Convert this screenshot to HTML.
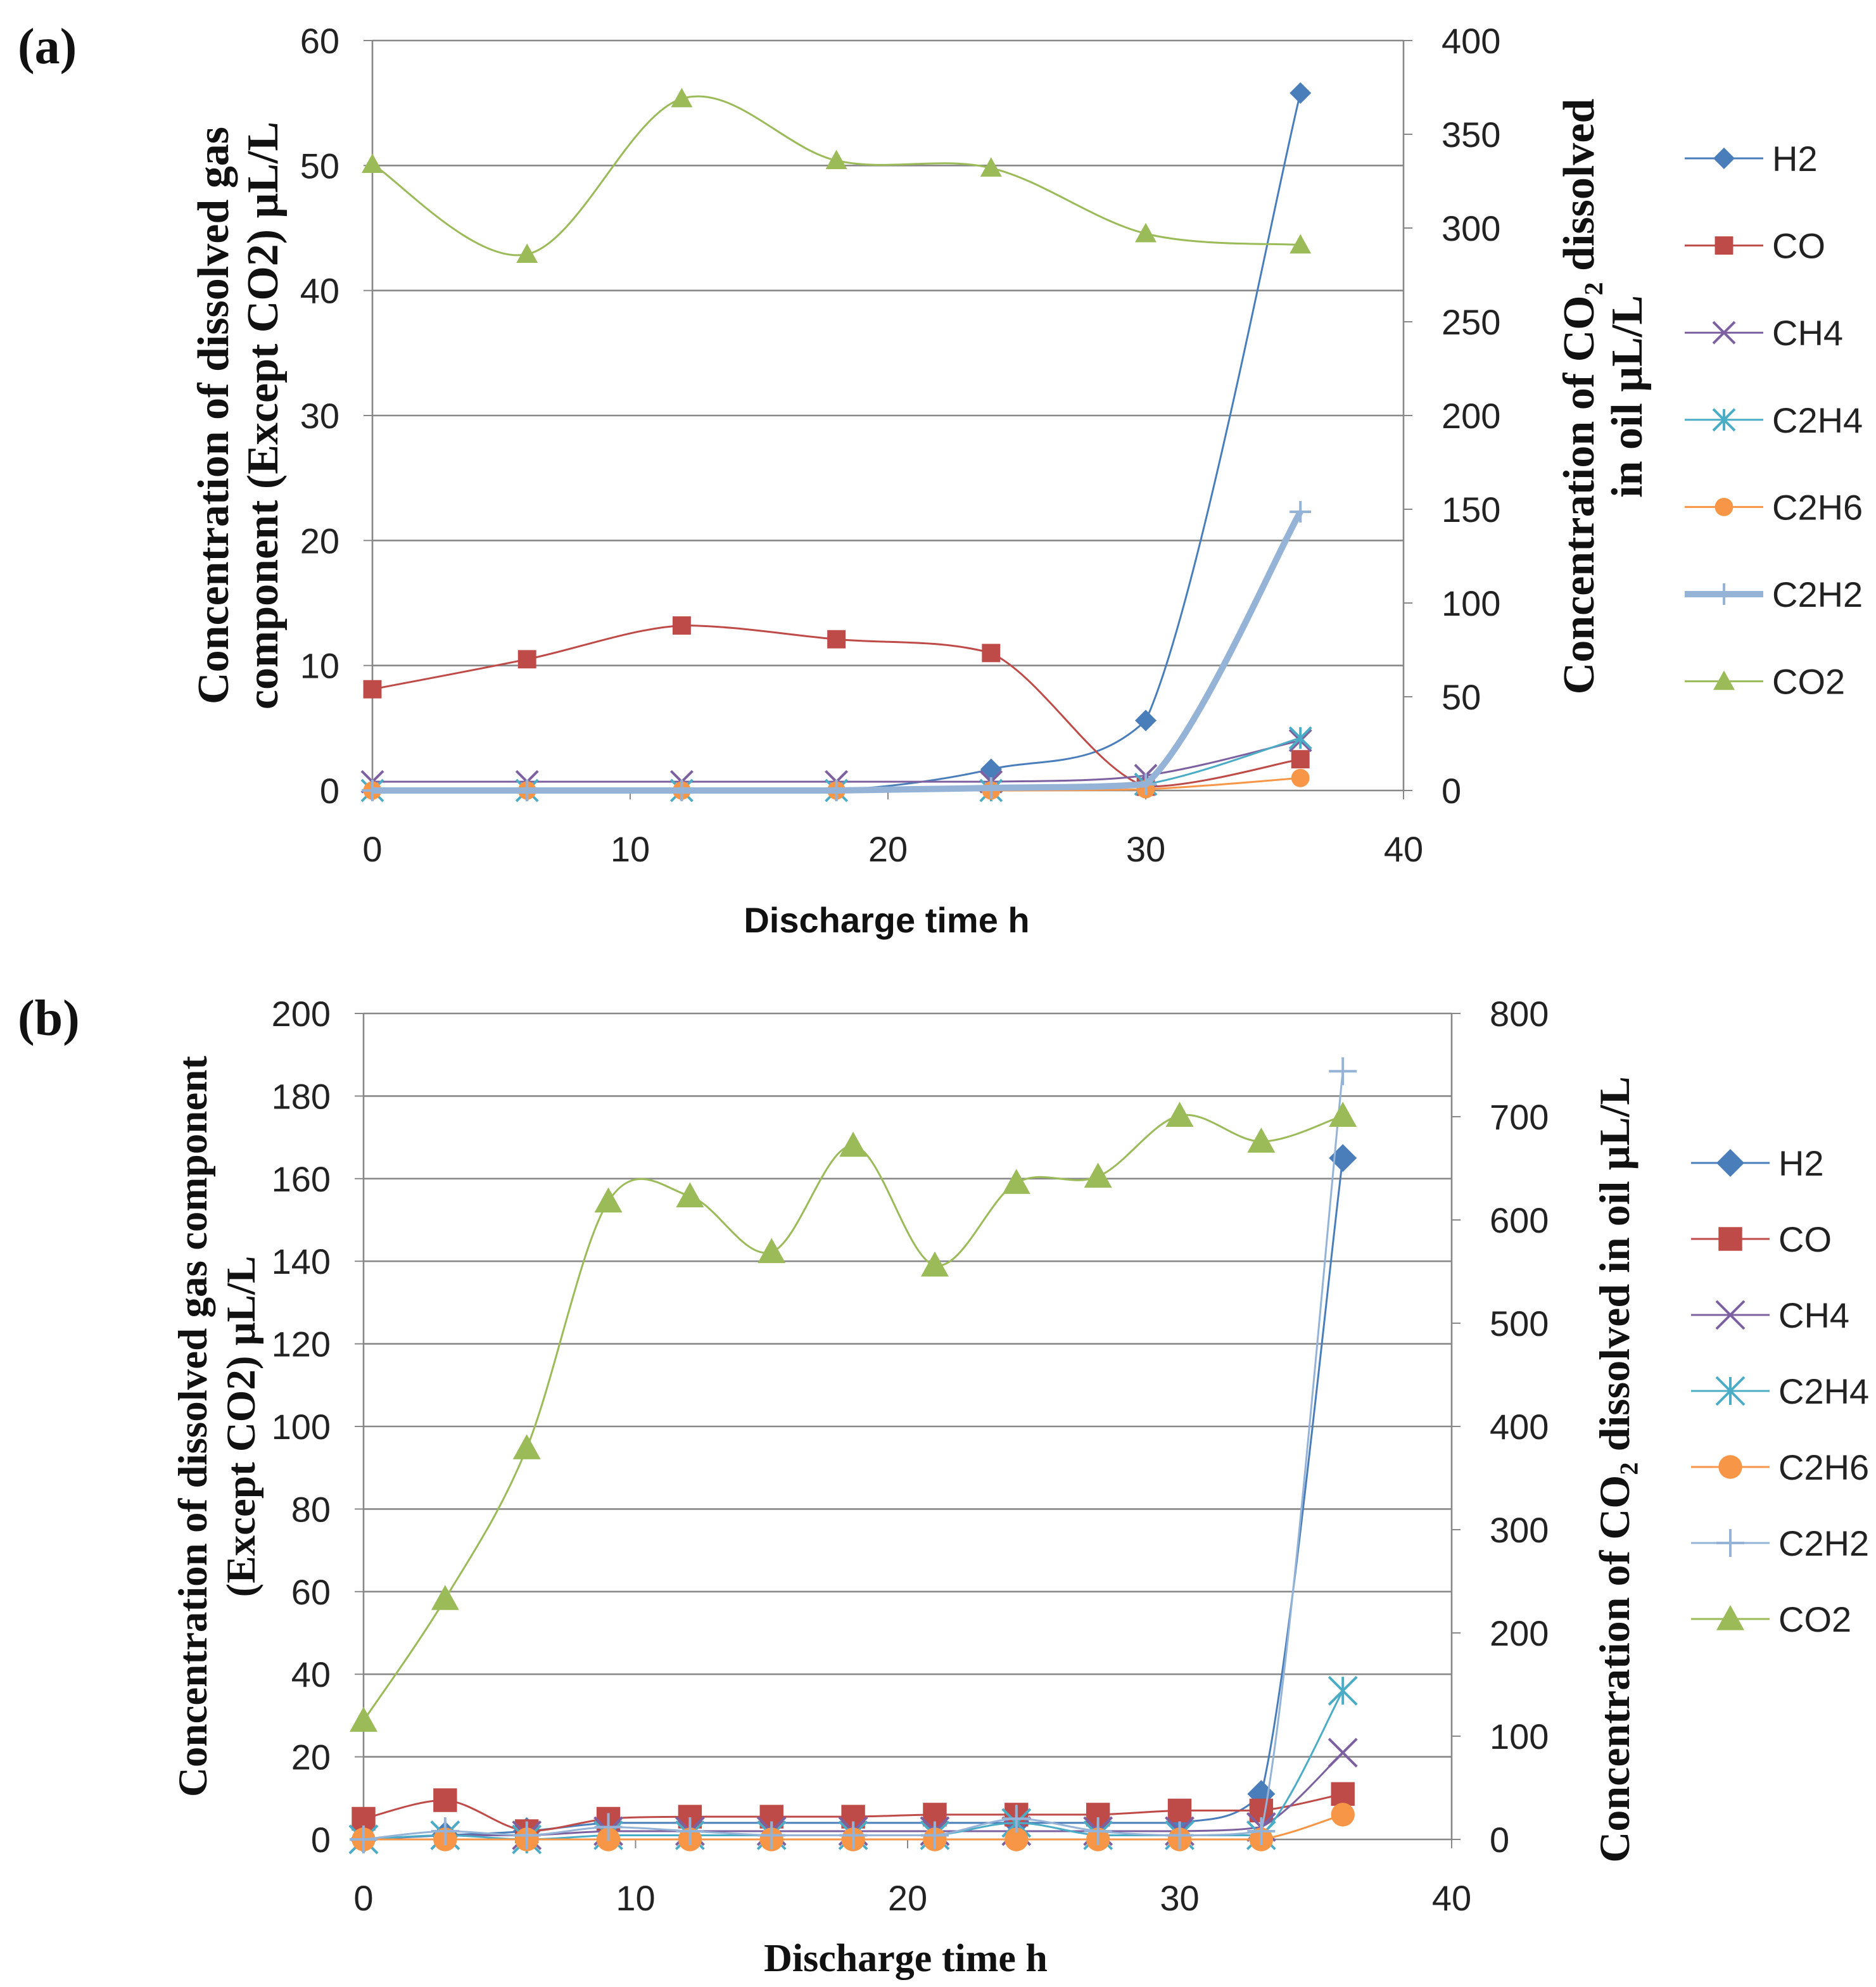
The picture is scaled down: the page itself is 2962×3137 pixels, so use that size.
<!DOCTYPE html>
<html><head><meta charset="utf-8"><style>
html,body{margin:0;padding:0;background:#fff}
svg{display:block}
.tk{font-family:"Liberation Sans",sans-serif;font-size:28px;fill:#222}
.tt{font-family:"Liberation Serif",serif;font-weight:bold;font-size:29px;fill:#111}
.lg{font-family:"Liberation Sans",sans-serif;font-size:28px;fill:#222}
</style></head><body>
<svg id="s" width="2962" height="3137" viewBox="0 0 1481 1568.5" xmlns="http://www.w3.org/2000/svg">
<text x="14" y="50" class="tt" style="font-size:40px">(a)</text>
<text x="14" y="817" class="tt" style="font-size:40px">(b)</text>
<text class="tt" style="font-size:35px" transform="translate(180,328) rotate(-90)" text-anchor="middle">Concentration of dissolved gas</text>
<text class="tt" style="font-size:35px" transform="translate(219,328) rotate(-90)" text-anchor="middle">component (Except CO2)  μL/L</text>
<text class="tt" style="font-size:35px" transform="translate(1258,313) rotate(-90)" text-anchor="middle">Concentration of CO₂ dissolved</text>
<text class="tt" style="font-size:35px" transform="translate(1296,313) rotate(-90)" text-anchor="middle">in oil μL/L</text>
<text class="tt" style="font-family:'Liberation Sans',sans-serif;font-size:28px" x="700" y="736" text-anchor="middle">Discharge time h</text>
<text class="tt" style="font-size:32.5px" transform="translate(163,1126) rotate(-90)" text-anchor="middle">Concentration of dissolved gas component</text>
<text class="tt" style="font-size:32.5px" transform="translate(201,1126) rotate(-90)" text-anchor="middle">(Except CO2)  μL/L</text>
<text class="tt" style="font-size:34px" transform="translate(1286,1160) rotate(-90)" text-anchor="middle">Concentration of CO₂ dissolved  in oil μL/L</text>
<text class="tt" style="font-size:31px" x="715" y="1556" text-anchor="middle">Discharge time h</text>
</svg>
<script>
const aX=[0,6,12,18,24,30,36];
const aH2=[0,0,0,0,1.7,5.6,55.8];
const aCO=[8.1,10.5,13.2,12.1,11.0,0.3,2.5];
const aCH4=[0.7,0.7,0.7,0.7,0.7,1.2,4.0];
const aC2H4=[0,0,0,0,0,0.5,4.2];
const aC2H6=[0,0,0,0,0,0.1,1.0];
const aC2H2=[0,0,0,0,0.2,0.5,22.3];
const aCO2=[334,286,369,336,332,297,291];
const aLeftTicks=[0,10,20,30,40,50,60];
const aRightTicks=[0,50,100,150,200,250,300,350,400];
const aXTicks=[0,10,20,30,40];

const bX=[0,3,6,9,12,15,18,21,24,27,30,33,36];
const bH2=[0,1,2,4,4,4,4,4,4,4,4,11,165];
const bCO=[5,9.5,2,5,5.5,5.5,5.5,6,6,6,7,7,11];
const bCH4=[0,1,1,2,2,2,2,2,2,2,2,3,21];
const bC2H4=[0,1,0,1,1,1,1,1,4,1,1,1,36];
const bC2H6=[0,0,0,0,0,0,0,0,0,0,0,0,6];
const bC2H2=[0,2,1,3,2,1,1,1,5,2,1,2,186];
const bCO2=[115,233,379,618,623,569,672,556,636,642,701,676,701];
const bLeftTicks=[0,20,40,60,80,100,120,140,160,180,200];
const bRightTicks=[0,100,200,300,400,500,600,700,800];
const bXTicks=[0,10,20,30,40];

const names=["H2","CO","CH4","C2H4","C2H6","C2H2","CO2"];
const cols=["#4A7EBB","#BE4B48","#7D60A0","#4BACC6","#F79646","#95B3D7","#9BBB59"];
const shapes=["diamond","square","x","star","circle","plus","triangle"];
const S=document.getElementById('s');
const NS="http://www.w3.org/2000/svg";
function el(t,a,p){const e=document.createElementNS(NS,t);for(const k in a)e.setAttribute(k,a[k]);(p||S).appendChild(e);return e;}
function smooth(pts,clamp){let d="M"+pts[0][0]+","+pts[0][1];
 for(let i=0;i<pts.length-1;i++){const p0=pts[i-1]||pts[i],p1=pts[i],p2=pts[i+1],p3=pts[i+2]||p2;const t=1/6;
  let c1y=p1[1]+(p2[1]-p0[1])*t,c2y=p2[1]-(p3[1]-p1[1])*t;
  if(clamp){const lo=Math.min(p1[1],p2[1]),hi=Math.max(p1[1],p2[1]);c1y=Math.min(hi,Math.max(lo,c1y));c2y=Math.min(hi,Math.max(lo,c2y));}
  d+=" C"+(p1[0]+(p2[0]-p0[0])*t)+","+c1y+" "+(p2[0]-(p3[0]-p1[0])*t)+","+c2y+" "+p2[0]+","+p2[1];}
 return d;}
function marker(g,shape,x,y,r,c){
 if(shape=="diamond")el('polygon',{points:`${x},${y-r} ${x+r},${y} ${x},${y+r} ${x-r},${y}`,fill:c},g);
 else if(shape=="square")el('rect',{x:x-r*0.85,y:y-r*0.85,width:r*1.7,height:r*1.7,fill:c},g);
 else if(shape=="circle")el('circle',{cx:x,cy:y,r:r*0.85,fill:c},g);
 else if(shape=="triangle")el('polygon',{points:`${x},${y-r} ${x+r},${y+r*0.8} ${x-r},${y+r*0.8}`,fill:c},g);
 else if(shape=="x")el('path',{d:`M${x-r},${y-r}L${x+r},${y+r}M${x-r},${y+r}L${x+r},${y-r}`,stroke:c,'stroke-width':2,fill:'none'},g);
 else if(shape=="plus")el('path',{d:`M${x-r},${y}L${x+r},${y}M${x},${y-r}L${x},${y+r}`,stroke:c,'stroke-width':2,fill:'none'},g);
 else if(shape=="star")el('path',{d:`M${x-r},${y-r}L${x+r},${y+r}M${x-r},${y+r}L${x+r},${y-r}M${x},${y-r}L${x},${y+r}`,stroke:c,'stroke-width':2,fill:'none'},g);
}
function chart(cfg){
 const {id,x0,x1,y0,y1,lmax,rmax,lt,rt,xt,xs,series,lx,ly,ldy,ms,wid}=cfg;
 const X=v=>x0+(x1-x0)*v/40, YL=v=>y0-(y0-y1)*v/lmax, YR=v=>y0-(y0-y1)*v/rmax;
 const g=el('g',{});
 
 
 lt.forEach(v=>{const l=el('line',{x1:x0,x2:x1,y1:YL(v),y2:YL(v),stroke:'#888','stroke-width':1.3},g);
  
  const t=el('text',{x:x0-26,y:YL(v)+10,'text-anchor':'end',class:'tk'},g);t.textContent=v;
  
  el('line',{x1:x0-7,x2:x0,y1:YL(v),y2:YL(v),stroke:'#888'},g);});
 rt.forEach(v=>{const t=el('text',{x:x1+30,y:YR(v)+10,class:'tk'},g);t.textContent=v;
  
  el('line',{x1:x1,x2:x1+7,y1:YR(v),y2:YR(v),stroke:'#888'},g);});
 xt.forEach(v=>{const t=el('text',{x:X(v),y:y0+56,'text-anchor':'middle',class:'tk'},g);t.textContent=v;
  
  el('line',{x1:X(v),x2:X(v),y1:y0,y2:y0+7,stroke:'#888'},g);});
 el('line',{x1:x0,x2:x0,y1:y1,y2:y0,stroke:'#888','stroke-width':1.3},g);
 el('line',{x1:x1,x2:x1,y1:y1,y2:y0,stroke:'#888','stroke-width':1.3},g);
 series.forEach((s,i)=>{
  const Y=i==6?YR:YL;
  const pts=xs.map((xv,k)=>[X(xv),Y(s[k])]);
  const sg=el('g',{},g);
  
  
  const w=(wid&&i==5)?5:1.5;
  el('path',{d:smooth(pts,i!=6),stroke:cols[i],'stroke-width':w,fill:'none'},sg);
  pts.forEach(p=>marker(sg,shapes[i],p[0],p[1],ms,cols[i]));
  const lg=el('g',{},g);
  
  
  const yy=ly+i*ldy;
  el('line',{x1:lx,x2:lx+62,y1:yy,y2:yy,stroke:cols[i],'stroke-width':w},lg);
  marker(lg,shapes[i],lx+31,yy,ms,cols[i]);
  const t=el('text',{x:lx+69,y:yy+10,class:'lg'},lg);t.textContent=names[i];
 });
}
chart({id:'a',x0:294,x1:1108,y0:624,y1:32,lmax:60,rmax:400,lt:aLeftTicks,rt:aRightTicks,xt:aXTicks,xs:aX,
 series:[aH2,aCO,aCH4,aC2H4,aC2H6,aC2H2,aCO2],lx:1330,ly:125,ldy:68.8,ms:8.5,wid:true});
chart({id:'b',x0:287,x1:1146,y0:1452,y1:800,lmax:200,rmax:800,lt:bLeftTicks,rt:bRightTicks,xt:bXTicks,xs:bX,
 series:[bH2,bCO,bCH4,bC2H4,bC2H6,bC2H2,bCO2],lx:1335,ly:918,ldy:60,ms:11,wid:false});
</script>
</body></html>
